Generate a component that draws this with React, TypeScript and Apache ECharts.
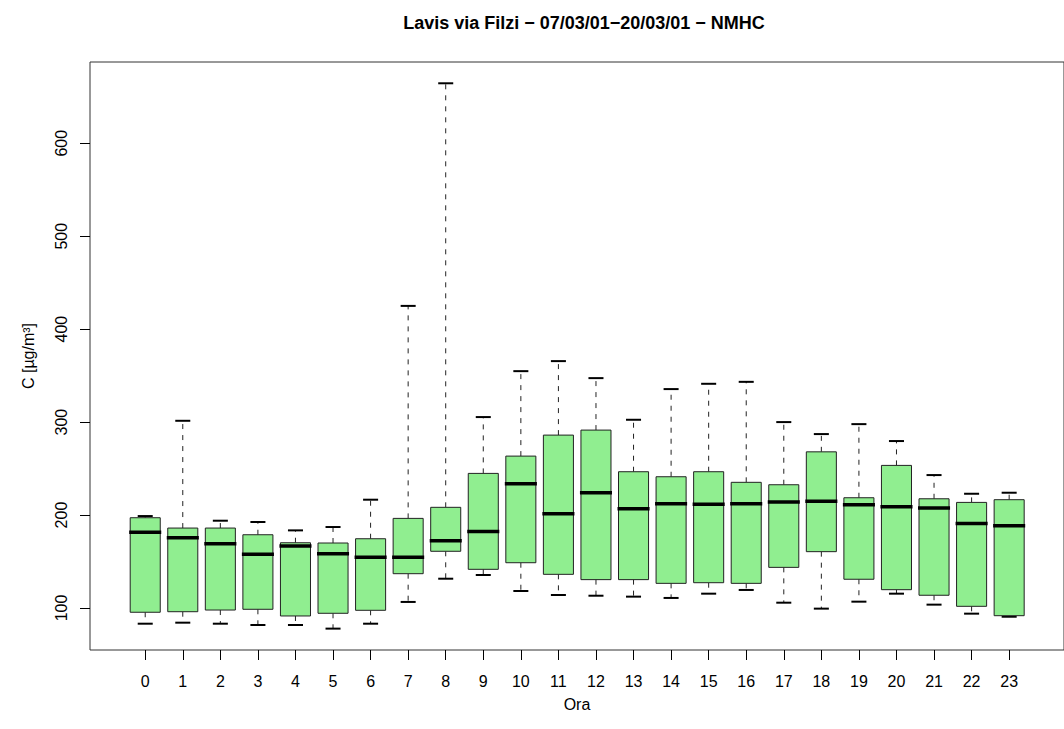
import React, { useEffect, useRef } from "react";
import * as echarts from "echarts";

const hours = [0, 1, 2, 3, 4, 5, 6, 7, 8, 9, 10, 11, 12, 13, 14, 15, 16, 17, 18, 19, 20, 21, 22, 23];
const lowerWhisker = [83.1, 84.2, 83.1, 81.7, 81.7, 77.8, 83.1, 106.5, 131.5, 135.5, 118.3, 114.0, 113.2, 112.2, 110.8, 115.4, 119.4, 105.7, 99.3, 106.8, 115.4, 103.6, 93.9, 90.6];
const q1 = [95.4, 96.0, 97.8, 98.6, 91.4, 94.3, 97.5, 136.9, 161.0, 141.6, 148.7, 136.2, 130.5, 130.5, 126.5, 127.2, 126.5, 143.7, 160.6, 130.9, 119.7, 113.7, 101.8, 91.7];
const medians = [181.4, 175.6, 169.2, 157.7, 166.7, 158.4, 154.5, 154.5, 172.4, 182.4, 233.7, 201.4, 224.0, 206.8, 212.2, 211.5, 212.2, 214.0, 214.7, 211.1, 208.9, 207.5, 191.0, 188.5];
const q3 = [197.1, 186.0, 186.0, 178.8, 170.2, 169.9, 174.5, 196.4, 208.3, 244.8, 263.4, 286.0, 291.4, 246.6, 241.2, 246.6, 235.2, 232.6, 268.0, 218.6, 253.4, 217.5, 213.6, 216.5];
const upperWhisker = [198.9, 301.4, 193.9, 192.5, 183.5, 187.1, 216.5, 425.0, 664.5, 305.4, 354.8, 365.6, 347.3, 302.5, 335.5, 341.2, 343.3, 300.0, 287.1, 297.8, 279.6, 243.0, 222.9, 224.0];
const yTicks = [100, 200, 300, 400, 500, 600];

const TITLE = "Lavis via Filzi \u2212 07/03/01\u221220/03/01 \u2212 NMHC";
const FONT = "'Liberation Sans', Arial, Helvetica, sans-serif";

export default function App() {
  const ref = useRef<HTMLDivElement>(null);

  useEffect(() => {
    if (!ref.current) return;
    const chart = echarts.init(ref.current, undefined, { renderer: "svg" });
    const rows = hours.map((h, i) => [h, lowerWhisker[i], q1[i], medians[i], q3[i], upperWhisker[i]]);
    const BOX_W = 0.8;

    chart.setOption({
      animation: false,
      backgroundColor: "#ffffff",
      title: {
        text: TITLE,
        left: 584,
        top: 14,
        textAlign: "center",
        padding: 0,
        textStyle: { fontFamily: FONT, fontSize: 18, fontWeight: "bold", color: "#000" },
      },
      grid: {
        left: 90,
        top: 62,
        right: -14,
        bottom: 79,
        show: true,
        borderColor: "#333",
        borderWidth: 1,
        backgroundColor: "transparent",
      },
      xAxis: {
        type: "value",
        min: -1.47,
        max: 24.46,
        name: "Ora",
        nameLocation: "middle",
        nameGap: 46,
        nameTextStyle: { fontFamily: FONT, fontSize: 16, color: "#000" },
        axisLine: { show: false, onZero: false },
        splitLine: { show: false },
        axisTick: { show: true, length: 10, lineStyle: { color: "#000" }, customValues: hours },
        axisLabel: {
          customValues: hours,
          margin: 23,
          fontFamily: FONT,
          fontSize: 16,
          color: "#000",
        },
      },
      yAxis: {
        type: "value",
        min: 54.8,
        max: 687.4,
        name: "C [\u00b5g/m\u00b3]",
        nameLocation: "middle",
        nameGap: 54,
        nameRotate: 90,
        nameTextStyle: { fontFamily: FONT, fontSize: 16, color: "#000" },
        axisLine: { show: false, onZero: false },
        splitLine: { show: false },
        axisTick: { show: true, length: 10, lineStyle: { color: "#000" }, customValues: yTicks },
        axisLabel: {
          customValues: yTicks,
          rotate: 90,
          align: "center",
          verticalAlign: "bottom",
          margin: 21,
          fontFamily: FONT,
          fontSize: 16,
          color: "#000",
        },
      },
      series: [
        {
          type: "custom",
          data: rows,
          encode: { x: 0, y: [1, 2, 3, 4, 5] },
          renderItem: (params: any, api: any) => {
            const x = api.value(0);
            const lo = api.coord([x, api.value(1)]);
            const b1 = api.coord([x, api.value(2)]);
            const md = api.coord([x, api.value(3)]);
            const b3 = api.coord([x, api.value(4)]);
            const hi = api.coord([x, api.value(5)]);
            const bw = api.size([BOX_W, 0])[0];
            const cw = bw / 2;
            const cx = lo[0];
            const whisk = { stroke: "#222", lineWidth: 1, lineDash: [5, 6] };
            const cap = { stroke: "#000", lineWidth: 2 };
            return {
              type: "group",
              children: [
                {
                  type: "line",
                  shape: { x1: cx, y1: b3[1], x2: cx, y2: hi[1] },
                  style: whisk,
                },
                {
                  type: "line",
                  shape: { x1: cx, y1: b1[1], x2: cx, y2: lo[1] },
                  style: whisk,
                },
                {
                  type: "line",
                  shape: { x1: cx - cw / 2, y1: hi[1], x2: cx + cw / 2, y2: hi[1] },
                  style: cap,
                },
                {
                  type: "line",
                  shape: { x1: cx - cw / 2, y1: lo[1], x2: cx + cw / 2, y2: lo[1] },
                  style: cap,
                },
                {
                  type: "rect",
                  shape: { x: cx - bw / 2, y: b3[1], width: bw, height: b1[1] - b3[1] },
                  style: { fill: "#90EE90", stroke: "#222", lineWidth: 1 },
                },
                {
                  type: "line",
                  shape: { x1: cx - bw / 2 - 1, y1: md[1], x2: cx + bw / 2 + 1, y2: md[1] },
                  style: { stroke: "#000", lineWidth: 3.5 },
                },
              ],
            };
          },
        },
      ],
    });

    return () => chart.dispose();
  }, []);

  return (
    <div
      ref={ref}
      style={{ position: "absolute", left: 0, top: 0, width: 1064, height: 729, background: "#fff" }}
    />
  );
}
